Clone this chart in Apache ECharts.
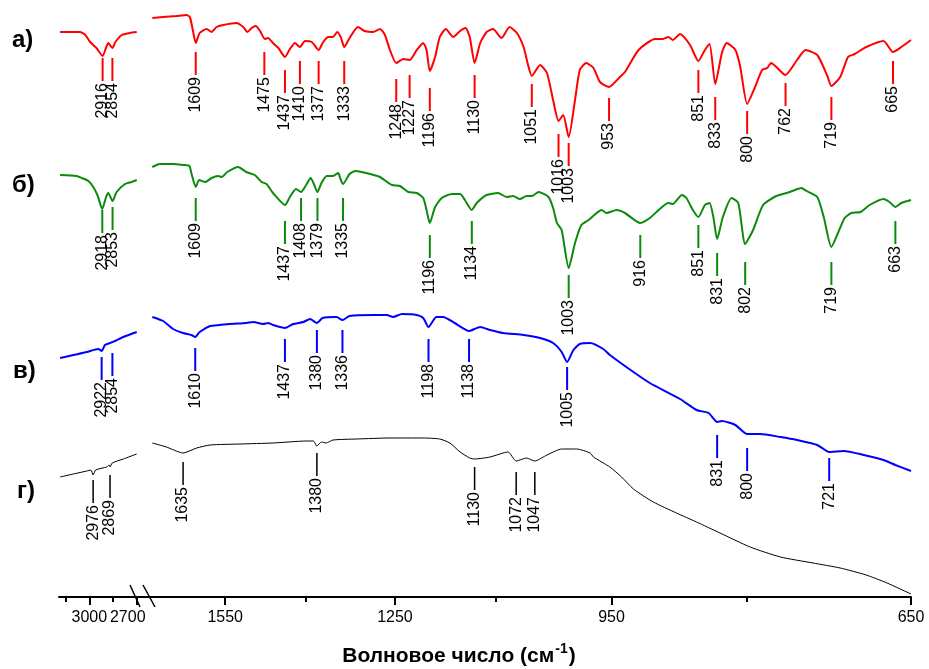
<!DOCTYPE html>
<html><head><meta charset="utf-8">
<script src="https://cdn.jsdelivr.net/npm/echarts@6.0.0/dist/echarts.min.js"></script>
<style>html,body{margin:0;padding:0;background:#fff}#c{width:929px;height:669px}</style>
</head><body><div id="c"></div>
<script>
// ---- spectra: [wavenumber cm-1, offset transmittance (a.u.)] ----
const aHigh = [[3185,565],[3060,565],[3025,562],[2995,555],[2955,549],[2916,541],[2895,549],[2880,554],[2854,549],[2835,555],[2795,562],[2745,564],[2700,565]];
const aLow = [[1700,579],[1677,580],[1649,581],[1628,582],[1621,580],[1615,567],[1609,554],[1601,564],[1587,568],[1577,565],[1567,570],[1554,572],[1528,574],[1515,570],[1507,565],[1499,569],[1491,571],[1483,566],[1474,558],[1468,559],[1459,554],[1449,549],[1437,540],[1428,548],[1419,554],[1410,550],[1401,556],[1389,555],[1377,547],[1369,555],[1360,560],[1352,560],[1345,565],[1339,560],[1333,550],[1324,559],[1310,570],[1299,566],[1285,565],[1274,568],[1266,562],[1258,547],[1248,534],[1237,538],[1227,537],[1216,547],[1206,554],[1201,547],[1196,526],[1188,540],[1181,560],[1172,568],[1161,560],[1151,566],[1143,569],[1137,560],[1130,534],[1122,554],[1113,565],[1104,568],[1092,559],[1081,570],[1071,564],[1062,550],[1056,532],[1051,521],[1040,532],[1031,524],[1023,497],[1016,476],[1010,482],[1003,460],[995,497],[989,527],[981,534],[972,529],[964,515],[953,510],[940,520],[934,525],[918,547],[899,558],[890,558],[884,560],[879,557],[871,563],[860,552],[851,536],[844,547],[839,553],[833,513],[826,544],[821,554],[812,547],[807,530],[800,493],[792,510],[785,527],[780,529],[776,534],[771,530],[762,522],[751,537],[743,547],[732,542],[723,522],[719,511],[711,520],[704,540],[698,543],[688,550],[673,556],[665,545],[658,550],[650,557]];

const bHigh = [[3185,422],[3080,421],[3048,419],[3006,416],[2975,410],[2949,402],[2918,388],[2894,400],[2880,404],[2853,396],[2827,405],[2774,413],[2732,415],[2700,417]];
const bLow = [[1700,430],[1684,433],[1656,433],[1635,432],[1622,431],[1618,424],[1609,410],[1602,417],[1590,415],[1577,419],[1564,421],[1557,420],[1546,425],[1525,430],[1509,425],[1493,422],[1480,415],[1471,413],[1459,404],[1437,392],[1428,400],[1417,408],[1408,405],[1399,412],[1391,419],[1386,414],[1379,405],[1372,414],[1363,421],[1353,421],[1343,424],[1340,419],[1335,413],[1324,423],[1314,426],[1304,425],[1290,423],[1274,420],[1255,412],[1242,411],[1229,405],[1216,404],[1206,399],[1201,387],[1196,374],[1188,390],[1178,399],[1163,403],[1151,403],[1144,397],[1134,387],[1127,394],[1113,402],[1097,404],[1085,400],[1076,401],[1067,398],[1058,401],[1051,401],[1042,405],[1029,400],[1023,389],[1018,374],[1012,367],[1003,329],[995,354],[987,372],[978,377],[962,387],[956,384],[944,387],[934,384],[916,374],[905,379],[895,387],[884,394],[879,393],[869,402],[864,399],[857,387],[851,380],[844,392],[839,394],[835,380],[831,358],[825,380],[816,399],[809,394],[802,353],[794,367],[784,392],[771,401],[758,405],[747,409],[742,406],[732,400],[726,380],[719,350],[713,364],[707,379],[701,384],[693,385],[685,392],[673,398],[668,395],[663,390],[658,394],[650,397]];

const cHigh = [[3185,239],[3101,242],[3016,245],[2943,248],[2922,246],[2901,252],[2869,254],[2854,255],[2837,256],[2785,260],[2700,265]];
const cLow = [[1700,280],[1677,276],[1656,268],[1635,264],[1618,262],[1610,260],[1601,265],[1580,271],[1561,272],[1541,273],[1509,274],[1496,275],[1477,273],[1468,274],[1459,272],[1437,269],[1422,273],[1404,275],[1392,278],[1380,274],[1370,279],[1346,280],[1336,277],[1324,281],[1285,282],[1263,282],[1253,280],[1239,283],[1216,282],[1206,279],[1198,270],[1186,280],[1176,280],[1159,274],[1138,266],[1122,270],[1108,267],[1090,264],[1062,262],[1040,259],[1023,254],[1012,245],[1005,235],[997,247],[989,253],[976,254],[960,248],[952,242],[924,225],[905,214],[871,198],[853,187],[840,184],[831,175],[826,176],[812,172],[800,163],[787,163],[767,160],[751,157],[732,152],[721,145],[708,146],[690,142],[673,137],[663,132],[650,126]];

const dHigh = [[3185,120],[3101,123],[3016,126],[2990,127],[2976,122],[2960,127],[2890,130],[2875,132],[2869,130],[2855,134],[2785,138],[2700,143]];
const dLow = [[1700,154],[1670,150],[1635,144],[1607,149],[1580,152],[1521,153],[1459,154],[1398,156],[1386,156],[1380,151],[1372,155],[1364,154],[1352,157],[1312,158],[1258,159],[1206,159],[1181,158],[1166,154],[1151,145],[1137,139],[1130,138],[1108,140],[1090,144],[1083,145],[1072,136],[1058,139],[1047,136],[1031,142],[1012,148],[993,148],[976,144],[972,140],[952,130],[938,120],[924,108],[901,95],[875,84],[853,75],[828,64],[797,50],[767,40],[736,34],[711,29],[688,22],[670,14],[650,3]];

// ---- labelled bands (cm-1) ----
const peaksA = [2916,2854,1609,1475,1437,1410,1377,1333,1248,1227,1196,1130,1051,1016,1003,953,851,833,800,762,719,665];
const peaksB = [2918,2853,1609,1437,1408,1379,1335,1196,1134,1003,916,851,831,802,719,663];
const peaksC = [2922,2854,1610,1437,1380,1336,1198,1138,1005,831,800,721];
const peaksD = [2976,2869,1635,1380,1130,1072,1047];
// top of each marker line (same units as the spectra)
const markTopA = [539,539,545,545,527,536,536,536,518,522,509,522,513,463,454,499,527,500,486,514,500,536];
const markTopB = [387,390,399,376,399,399,399,362,376,322,362,372,344,335,335,376];
const markTopC = [240,244,249,258,267,267,258,258,230,162,149,139];
const markTopD = [117,122,135,144,130,125,125];

// ---- axis ticks ----
const highMajor = [3000, 2700], highMinor = [3150, 2850];
const lowMajor = [1550, 1250, 950, 650], lowMinor = [1400, 1100, 800];

const narrow = '"Liberation Sans Narrow","Arial Narrow","Liberation Sans",Arial,sans-serif';
const sans = '"Liberation Sans",Arial,sans-serif';

function lineSeries(data, xi, color, w) {
  return {type:'line', xAxisIndex:xi, yAxisIndex:xi < 2 ? 0 : 1, data:data, showSymbol:false, symbol:'none',
    smooth:0.2, silent:true, animation:false, lineStyle:{color:color, width:w}, z:3};
}
function annotSeries(peaks, tops, high, xi, color, w) {
  const data = [];
  peaks.forEach(function (p, i) { if ((p > 2000) === high) data.push([p, tops[i]]); });
  return {type:'custom', xAxisIndex:xi, yAxisIndex:xi < 2 ? 0 : 1, data:data, silent:true, animation:false, z:4,
    clip:false,
    renderItem:function (params, api) {
      const v = api.value(0);
      const p = api.coord([v, api.value(1)]);
      const len = 23;
      return {type:'group', children:[
        {type:'line', shape:{x1:p[0], y1:p[1], x2:p[0], y2:p[1] + len}, style:{stroke:color, lineWidth:w}},
        {type:'text', x:p[0], y:p[1] + len + 2, rotation:Math.PI / 2,
          style:{text:String(Math.round(v)), fill:'#000', font:'16px ' + sans, align:'right', verticalAlign:'middle'}}
      ]};
    }};
}
function xAx(grid, type, min, max, major, isMinor) {
  const o = {gridIndex:grid, type:type, min:min, max:max, inverse:true, position:'bottom',
    splitLine:{show:false}, minorTick:{show:false},
    axisLine:{show:!isMinor, onZero:false, lineStyle:{color:'#000', width:2}},
    axisTick:{show:true, customValues:major, length:isMinor ? 5 : 8, inside:false, lineStyle:{color:'#000', width:2}},
    axisLabel:{show:!isMinor, customValues:major, margin:13, color:'#000', fontSize:16, fontFamily:narrow,
      formatter:function (v) { v = Math.round(v); return v === 2700 ? '{s|' + v + '}' : String(v); },
      rich:{s:{fontSize:16, fontFamily:narrow, color:'#000', padding:[0,18,0,0]}}}};
  if (type === 'log') o.logBase = 10;
  return o;
}

const chart = echarts.init(document.getElementById('c'), null, {renderer:'canvas'});
chart.setOption({
  animation:false,
  backgroundColor:'#fff',
  grid:[{left:59, width:91, top:0, bottom:72}, {left:150, right:18, top:0, bottom:72}],
  xAxis:[
    xAx(0, 'value', 2616, 3192, highMajor, false),
    xAx(0, 'value', 2616, 3192, highMinor, true),
    xAx(1, 'log', 650, 1705, lowMajor, false),
    xAx(1, 'log', 650, 1705, lowMinor, true)
  ],
  yAxis:[{gridIndex:0, type:'value', min:0, max:597, show:false}, {gridIndex:1, type:'value', min:0, max:597, show:false}],
  series:[
    lineSeries(aHigh, 0, '#ff0000', 2), lineSeries(aLow, 2, '#ff0000', 2),
    lineSeries(bHigh, 0, '#0b8a0b', 2), lineSeries(bLow, 2, '#0b8a0b', 2),
    lineSeries(cHigh, 0, '#0000ff', 2), lineSeries(cLow, 2, '#0000ff', 2),
    lineSeries(dHigh, 0, '#000000', 1), lineSeries(dLow, 2, '#000000', 1),
    annotSeries(peaksA, markTopA, true, 0, '#ff0000', 2), annotSeries(peaksA, markTopA, false, 2, '#ff0000', 2),
    annotSeries(peaksB, markTopB, true, 0, '#0b8a0b', 2), annotSeries(peaksB, markTopB, false, 2, '#0b8a0b', 2),
    annotSeries(peaksC, markTopC, true, 0, '#0000ff', 2), annotSeries(peaksC, markTopC, false, 2, '#0000ff', 2),
    annotSeries(peaksD, markTopD, true, 0, '#000000', 1.5), annotSeries(peaksD, markTopD, false, 2, '#000000', 1.5)
  ],
  graphic:[
    {type:'text', x:12, y:40, style:{text:'а)', font:'bold 24px ' + sans, fill:'#000', align:'left', verticalAlign:'middle'}},
    {type:'text', x:12, y:185, style:{text:'б)', font:'bold 24px ' + sans, fill:'#000', align:'left', verticalAlign:'middle'}},
    {type:'text', x:13, y:371, style:{text:'в)', font:'bold 24px ' + sans, fill:'#000', align:'left', verticalAlign:'middle'}},
    {type:'text', x:17, y:491, style:{text:'г)', font:'bold 24px ' + sans, fill:'#000', align:'left', verticalAlign:'middle'}},
    {type:'line', shape:{x1:130, y1:585, x2:140, y2:607}, style:{stroke:'#000', lineWidth:1.5}},
    {type:'line', shape:{x1:143, y1:585, x2:155, y2:607}, style:{stroke:'#000', lineWidth:1.5}},
    {type:'text', x:459, y:656, style:{text:'{a|Волновое число (см}{s|-1}{a|)}', align:'center', verticalAlign:'middle',
      rich:{a:{font:'bold 21px ' + sans, fill:'#000', color:'#000'}, s:{font:'bold 14px ' + sans, color:'#000', fill:'#000', padding:[0,1,14,1]}}}}
  ]
});
</script></body></html>
